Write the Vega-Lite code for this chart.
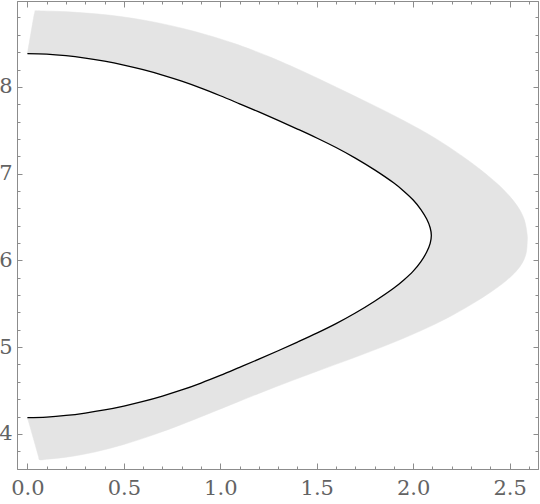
{
  "$schema": "https://vega.github.io/schema/vega-lite/v6.json",
  "width": 521,
  "height": 468,
  "autosize": "none",
  "padding": {"left": 17, "top": 1, "right": 2, "bottom": 35},
  "background": "white",
  "config": {
    "view": {"stroke": null},
    "axis": {
      "title": null,
      "domainColor": "#8c8c8c",
      "domainWidth": 1,
      "tickColor": "#8c8c8c",
      "tickWidth": 1,
      "grid": false,
      "labelFont": "DejaVu Serif",
      "labelFontSize": 21,
      "labelColor": "#636363",
      "labelOverlap": false,
      "labelFlush": false
    }
  },
  "datasets": {
    "band": [
      {"i": 1, "x": 0.038, "y": 8.877},
      {"i": 2, "x": 0.07, "y": 8.876},
      {"i": 3, "x": 0.15, "y": 8.871},
      {"i": 4, "x": 0.288, "y": 8.854},
      {"i": 5, "x": 0.42, "y": 8.828},
      {"i": 6, "x": 0.547, "y": 8.79},
      {"i": 7, "x": 0.68, "y": 8.737},
      {"i": 8, "x": 0.807, "y": 8.673},
      {"i": 9, "x": 0.94, "y": 8.593},
      {"i": 10, "x": 1.066, "y": 8.505},
      {"i": 11, "x": 1.16, "y": 8.43},
      {"i": 12, "x": 1.256, "y": 8.346},
      {"i": 13, "x": 1.429, "y": 8.178},
      {"i": 14, "x": 1.602, "y": 7.996},
      {"i": 15, "x": 1.775, "y": 7.809},
      {"i": 16, "x": 1.947, "y": 7.616},
      {"i": 17, "x": 2.12, "y": 7.4},
      {"i": 18, "x": 2.293, "y": 7.14},
      {"i": 19, "x": 2.4, "y": 6.953},
      {"i": 20, "x": 2.466, "y": 6.821},
      {"i": 21, "x": 2.52, "y": 6.686},
      {"i": 22, "x": 2.554, "y": 6.577},
      {"i": 23, "x": 2.575, "y": 6.476},
      {"i": 24, "x": 2.585, "y": 6.386},
      {"i": 25, "x": 2.589, "y": 6.33},
      {"i": 26, "x": 2.592, "y": 6.27},
      {"i": 27, "x": 2.591, "y": 6.2},
      {"i": 28, "x": 2.588, "y": 6.113},
      {"i": 29, "x": 2.582, "y": 6.053},
      {"i": 30, "x": 2.565, "y": 5.968},
      {"i": 31, "x": 2.534, "y": 5.875},
      {"i": 32, "x": 2.48, "y": 5.762},
      {"i": 33, "x": 2.409, "y": 5.645},
      {"i": 34, "x": 2.3, "y": 5.49},
      {"i": 35, "x": 2.177, "y": 5.336},
      {"i": 36, "x": 2.05, "y": 5.199},
      {"i": 37, "x": 1.909, "y": 5.064},
      {"i": 38, "x": 1.78, "y": 4.951},
      {"i": 39, "x": 1.642, "y": 4.836},
      {"i": 40, "x": 1.46, "y": 4.687},
      {"i": 41, "x": 1.285, "y": 4.54},
      {"i": 42, "x": 1.1, "y": 4.377},
      {"i": 43, "x": 0.927, "y": 4.221},
      {"i": 44, "x": 0.8, "y": 4.109},
      {"i": 45, "x": 0.65, "y": 3.986},
      {"i": 46, "x": 0.5, "y": 3.878},
      {"i": 47, "x": 0.35, "y": 3.791},
      {"i": 48, "x": 0.2, "y": 3.731},
      {"i": 49, "x": 0.1, "y": 3.708},
      {"i": 50, "x": 0.062, "y": 3.703},
      {"i": 51, "x": 0.0573, "y": 3.74},
      {"i": 52, "x": 0.0049, "y": 4.15},
      {"i": 53, "x": 0.0, "y": 4.188},
      {"i": 54, "x": 0.03, "y": 4.19},
      {"i": 55, "x": 0.1, "y": 4.194},
      {"i": 56, "x": 0.2, "y": 4.212},
      {"i": 57, "x": 0.3, "y": 4.24},
      {"i": 58, "x": 0.4, "y": 4.276},
      {"i": 59, "x": 0.5, "y": 4.321},
      {"i": 60, "x": 0.6, "y": 4.374},
      {"i": 61, "x": 0.7, "y": 4.436},
      {"i": 62, "x": 0.8, "y": 4.506},
      {"i": 63, "x": 0.9, "y": 4.586},
      {"i": 64, "x": 1.0, "y": 4.674},
      {"i": 65, "x": 1.1, "y": 4.767},
      {"i": 66, "x": 1.2, "y": 4.861},
      {"i": 67, "x": 1.3, "y": 4.958},
      {"i": 68, "x": 1.4, "y": 5.058},
      {"i": 69, "x": 1.5, "y": 5.161},
      {"i": 70, "x": 1.6, "y": 5.271},
      {"i": 71, "x": 1.7, "y": 5.393},
      {"i": 72, "x": 1.8, "y": 5.529},
      {"i": 73, "x": 1.9, "y": 5.681},
      {"i": 74, "x": 1.95, "y": 5.771},
      {"i": 75, "x": 2.0, "y": 5.876},
      {"i": 76, "x": 2.04, "y": 5.986},
      {"i": 77, "x": 2.07, "y": 6.096},
      {"i": 78, "x": 2.088, "y": 6.196},
      {"i": 79, "x": 2.094, "y": 6.286},
      {"i": 80, "x": 2.088, "y": 6.376},
      {"i": 81, "x": 2.07, "y": 6.476},
      {"i": 82, "x": 2.04, "y": 6.586},
      {"i": 83, "x": 2.0, "y": 6.696},
      {"i": 84, "x": 1.95, "y": 6.801},
      {"i": 85, "x": 1.9, "y": 6.891},
      {"i": 86, "x": 1.8, "y": 7.043},
      {"i": 87, "x": 1.7, "y": 7.179},
      {"i": 88, "x": 1.6, "y": 7.301},
      {"i": 89, "x": 1.5, "y": 7.411},
      {"i": 90, "x": 1.4, "y": 7.514},
      {"i": 91, "x": 1.3, "y": 7.614},
      {"i": 92, "x": 1.2, "y": 7.711},
      {"i": 93, "x": 1.1, "y": 7.805},
      {"i": 94, "x": 1.0, "y": 7.898},
      {"i": 95, "x": 0.9, "y": 7.986},
      {"i": 96, "x": 0.8, "y": 8.066},
      {"i": 97, "x": 0.7, "y": 8.136},
      {"i": 98, "x": 0.6, "y": 8.198},
      {"i": 99, "x": 0.5, "y": 8.251},
      {"i": 100, "x": 0.4, "y": 8.296},
      {"i": 101, "x": 0.3, "y": 8.332},
      {"i": 102, "x": 0.2, "y": 8.36},
      {"i": 103, "x": 0.1, "y": 8.378},
      {"i": 104, "x": 0.03, "y": 8.383},
      {"i": 105, "x": 0.0, "y": 8.384},
      {"i": 106, "x": 0.0028, "y": 8.42},
      {"i": 107, "x": 0.0352, "y": 8.84}
    ],
    "curve": [
      {"i": 1, "x": 0.0, "y": 8.384},
      {"i": 2, "x": 0.1, "y": 8.378},
      {"i": 3, "x": 0.2, "y": 8.36},
      {"i": 4, "x": 0.3, "y": 8.332},
      {"i": 5, "x": 0.4, "y": 8.296},
      {"i": 6, "x": 0.5, "y": 8.251},
      {"i": 7, "x": 0.6, "y": 8.198},
      {"i": 8, "x": 0.7, "y": 8.136},
      {"i": 9, "x": 0.8, "y": 8.066},
      {"i": 10, "x": 0.9, "y": 7.986},
      {"i": 11, "x": 1.0, "y": 7.898},
      {"i": 12, "x": 1.1, "y": 7.805},
      {"i": 13, "x": 1.2, "y": 7.711},
      {"i": 14, "x": 1.3, "y": 7.614},
      {"i": 15, "x": 1.4, "y": 7.514},
      {"i": 16, "x": 1.5, "y": 7.411},
      {"i": 17, "x": 1.6, "y": 7.301},
      {"i": 18, "x": 1.7, "y": 7.179},
      {"i": 19, "x": 1.8, "y": 7.043},
      {"i": 20, "x": 1.9, "y": 6.891},
      {"i": 21, "x": 1.95, "y": 6.801},
      {"i": 22, "x": 2.0, "y": 6.696},
      {"i": 23, "x": 2.04, "y": 6.586},
      {"i": 24, "x": 2.07, "y": 6.476},
      {"i": 25, "x": 2.088, "y": 6.376},
      {"i": 26, "x": 2.094, "y": 6.286},
      {"i": 27, "x": 2.088, "y": 6.196},
      {"i": 28, "x": 2.07, "y": 6.096},
      {"i": 29, "x": 2.04, "y": 5.986},
      {"i": 30, "x": 2.0, "y": 5.876},
      {"i": 31, "x": 1.95, "y": 5.771},
      {"i": 32, "x": 1.9, "y": 5.681},
      {"i": 33, "x": 1.8, "y": 5.529},
      {"i": 34, "x": 1.7, "y": 5.393},
      {"i": 35, "x": 1.6, "y": 5.271},
      {"i": 36, "x": 1.5, "y": 5.161},
      {"i": 37, "x": 1.4, "y": 5.058},
      {"i": 38, "x": 1.3, "y": 4.958},
      {"i": 39, "x": 1.2, "y": 4.861},
      {"i": 40, "x": 1.1, "y": 4.767},
      {"i": 41, "x": 1.0, "y": 4.674},
      {"i": 42, "x": 0.9, "y": 4.586},
      {"i": 43, "x": 0.8, "y": 4.506},
      {"i": 44, "x": 0.7, "y": 4.436},
      {"i": 45, "x": 0.6, "y": 4.374},
      {"i": 46, "x": 0.5, "y": 4.321},
      {"i": 47, "x": 0.4, "y": 4.276},
      {"i": 48, "x": 0.3, "y": 4.24},
      {"i": 49, "x": 0.2, "y": 4.212},
      {"i": 50, "x": 0.1, "y": 4.194},
      {"i": 51, "x": 0.0, "y": 4.188}
    ]
  },
  "resolve": {"axis": {"x": "independent", "y": "independent"}},
  "layer": [
    {
      "data": {"name": "band"},
      "mark": {"type": "line", "filled": true, "fill": "#e4e4e4", "stroke": "#e4e4e4", "strokeWidth": 0.5, "interpolate": "catmull-rom"},
      "encoding": {
        "y": {
          "field": "y", "type": "quantitative",
          "scale": {"domain": [3.595, 8.99], "nice": false, "zero": false},
          "axis": {"orient": "left", "values": [4, 5, 6, 7, 8], "format": "d", "tickSize": -5, "labelPadding": 10}
        },
        "x": {
          "field": "x", "type": "quantitative",
          "scale": {"domain": [-0.054, 2.647], "nice": false, "zero": false},
          "axis": {"orient": "bottom", "values": [0, 0.5, 1, 1.5, 2, 2.5], "format": ".1f", "tickSize": -6, "labelPadding": 14}
        },
        "order": {"field": "i", "type": "quantitative"}
      }
    },
    {
      "data": {"name": "curve"},
      "mark": {"type": "line", "interpolate": "catmull-rom", "color": "black", "strokeWidth": 1.3},
      "encoding": {
        "x": {"field": "x", "type": "quantitative", "axis": {"orient": "top", "values": [0, 0.5, 1, 1.5, 2, 2.5], "labels": false, "tickSize": -6}},
        "y": {"field": "y", "type": "quantitative", "axis": {"orient": "right", "values": [4, 5, 6, 7, 8], "labels": false, "tickSize": -5}},
        "order": {"field": "i", "type": "quantitative"}
      }
    },
    {
      "data": {"name": "curve"},
      "mark": {"type": "line", "opacity": 0},
      "encoding": {
        "x": {"field": "x", "type": "quantitative", "axis": {"orient": "bottom", "values": [0.1, 0.2, 0.3, 0.4, 0.6, 0.7, 0.8, 0.9, 1.1, 1.2, 1.3, 1.4, 1.6, 1.7, 1.8, 1.9, 2.1, 2.2, 2.3, 2.4, 2.6], "labels": false, "tickSize": -3}},
        "y": {"field": "y", "type": "quantitative", "axis": {"orient": "left", "values": [3.8, 4.2, 4.4, 4.6, 4.8, 5.2, 5.4, 5.6, 5.8, 6.2, 6.4, 6.6, 6.8, 7.2, 7.4, 7.6, 7.8, 8.2, 8.4, 8.6, 8.8], "labels": false, "tickSize": -3}},
        "order": {"field": "i", "type": "quantitative"}
      }
    },
    {
      "data": {"name": "curve"},
      "mark": {"type": "line", "opacity": 0},
      "encoding": {
        "x": {"field": "x", "type": "quantitative", "axis": {"orient": "top", "values": [0.1, 0.2, 0.3, 0.4, 0.6, 0.7, 0.8, 0.9, 1.1, 1.2, 1.3, 1.4, 1.6, 1.7, 1.8, 1.9, 2.1, 2.2, 2.3, 2.4, 2.6], "labels": false, "tickSize": -3}},
        "y": {"field": "y", "type": "quantitative", "axis": {"orient": "right", "values": [3.8, 4.2, 4.4, 4.6, 4.8, 5.2, 5.4, 5.6, 5.8, 6.2, 6.4, 6.6, 6.8, 7.2, 7.4, 7.6, 7.8, 8.2, 8.4, 8.6, 8.8], "labels": false, "tickSize": -3}},
        "order": {"field": "i", "type": "quantitative"}
      }
    }
  ]
}
